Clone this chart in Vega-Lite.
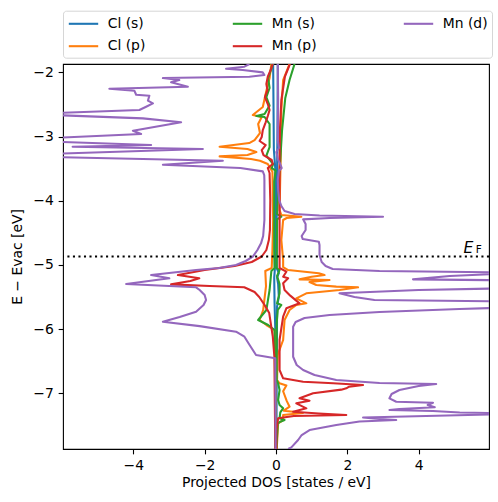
{
  "$schema": "https://vega.github.io/schema/vega-lite/v6.json",
  "width": 426,
  "height": 385,
  "autosize": "none",
  "padding": {"left": 63, "top": 64, "right": 9, "bottom": 53},
  "config": {
    "font": "DejaVu Sans",
    "view": {"stroke": "black", "strokeWidth": 1.1},
    "axis": {"grid": false, "domain": false, "tickColor": "black", "tickWidth": 1.1, "tickSize": 4.86, "labelPadding": 4.86, "labelFontSize": 13.9, "labelColor": "black", "titleFontSize": 13.9, "titleFontWeight": "normal", "titleColor": "black", "labelFont": "DejaVu Sans", "titleFont": "DejaVu Sans"}
  },
  "layer": [
    {
      "data": {"values": [
        {"o":"Cl (s)","s":"up","E":-1.87,"d":0.05},{"o":"Cl (s)","s":"up","E":-3.0,"d":0.04},{"o":"Cl (s)","s":"up","E":-4.0,"d":0.02},{"o":"Cl (s)","s":"up","E":-5.05,"d":0.02},{"o":"Cl (s)","s":"up","E":-5.13,"d":0.08},{"o":"Cl (s)","s":"up","E":-5.2,"d":0.03},{"o":"Cl (s)","s":"up","E":-5.3,"d":0.06},{"o":"Cl (s)","s":"up","E":-5.5,"d":0.08},{"o":"Cl (s)","s":"up","E":-5.65,"d":0.03},{"o":"Cl (s)","s":"up","E":-7.87,"d":0.01},
        {"o":"Cl (s)","s":"dn","E":-1.87,"d":-0.08},{"o":"Cl (s)","s":"dn","E":-2.5,"d":-0.07},{"o":"Cl (s)","s":"dn","E":-3.2,"d":-0.06},{"o":"Cl (s)","s":"dn","E":-3.5,"d":-0.02},{"o":"Cl (s)","s":"dn","E":-5.05,"d":-0.03},{"o":"Cl (s)","s":"dn","E":-5.2,"d":-0.05},{"o":"Cl (s)","s":"dn","E":-5.6,"d":-0.04},{"o":"Cl (s)","s":"dn","E":-6.0,"d":-0.02},{"o":"Cl (s)","s":"dn","E":-7.87,"d":-0.01},

        {"o":"Cl (p)","s":"up","E":-1.87,"d":0.38},{"o":"Cl (p)","s":"up","E":-2.12,"d":0.2},{"o":"Cl (p)","s":"up","E":-2.587,"d":0.15},{"o":"Cl (p)","s":"up","E":-3.366,"d":0.13},{"o":"Cl (p)","s":"up","E":-4.146,"d":0.1},{"o":"Cl (p)","s":"up","E":-4.224,"d":0.15},{"o":"Cl (p)","s":"up","E":-4.25,"d":0.71},{"o":"Cl (p)","s":"up","E":-4.27,"d":0.3},{"o":"Cl (p)","s":"up","E":-4.301,"d":0.2},{"o":"Cl (p)","s":"up","E":-4.613,"d":0.15},{"o":"Cl (p)","s":"up","E":-4.925,"d":0.2},{"o":"Cl (p)","s":"up","E":-5.034,"d":0.2},{"o":"Cl (p)","s":"up","E":-5.081,"d":0.34},{"o":"Cl (p)","s":"up","E":-5.132,"d":1.2},{"o":"Cl (p)","s":"up","E":-5.159,"d":1.36},{"o":"Cl (p)","s":"up","E":-5.185,"d":1.0},{"o":"Cl (p)","s":"up","E":-5.226,"d":0.66},{"o":"Cl (p)","s":"up","E":-5.236,"d":1.5},{"o":"Cl (p)","s":"up","E":-5.268,"d":0.94},{"o":"Cl (p)","s":"up","E":-5.314,"d":1.13},{"o":"Cl (p)","s":"up","E":-5.34,"d":1.69},{"o":"Cl (p)","s":"up","E":-5.35,"d":2.3},{"o":"Cl (p)","s":"up","E":-5.392,"d":1.78},{"o":"Cl (p)","s":"up","E":-5.444,"d":0.85},{"o":"Cl (p)","s":"up","E":-5.522,"d":0.57},{"o":"Cl (p)","s":"up","E":-5.6,"d":0.85},{"o":"Cl (p)","s":"up","E":-5.626,"d":0.57},{"o":"Cl (p)","s":"up","E":-5.704,"d":0.38},{"o":"Cl (p)","s":"up","E":-5.86,"d":0.24},{"o":"Cl (p)","s":"up","E":-6.171,"d":0.2},{"o":"Cl (p)","s":"up","E":-6.4,"d":0.05},{"o":"Cl (p)","s":"up","E":-6.795,"d":0.03},{"o":"Cl (p)","s":"up","E":-6.846,"d":0.1},{"o":"Cl (p)","s":"up","E":-6.88,"d":0.29},{"o":"Cl (p)","s":"up","E":-6.97,"d":0.2},{"o":"Cl (p)","s":"up","E":-7.12,"d":0.3},{"o":"Cl (p)","s":"up","E":-7.211,"d":0.38},{"o":"Cl (p)","s":"up","E":-7.273,"d":0.22},{"o":"Cl (p)","s":"up","E":-7.289,"d":0.48},{"o":"Cl (p)","s":"up","E":-7.31,"d":0.75},{"o":"Cl (p)","s":"up","E":-7.34,"d":0.2},{"o":"Cl (p)","s":"up","E":-7.42,"d":0.2},{"o":"Cl (p)","s":"up","E":-7.469,"d":0.06},{"o":"Cl (p)","s":"up","E":-7.87,"d":0.02},
        {"o":"Cl (p)","s":"dn","E":-1.87,"d":-0.13},{"o":"Cl (p)","s":"dn","E":-2.089,"d":-0.18},{"o":"Cl (p)","s":"dn","E":-2.286,"d":-0.27},{"o":"Cl (p)","s":"dn","E":-2.541,"d":-0.37},{"o":"Cl (p)","s":"dn","E":-2.665,"d":-0.65},{"o":"Cl (p)","s":"dn","E":-2.696,"d":-0.4},{"o":"Cl (p)","s":"dn","E":-2.805,"d":-0.5},{"o":"Cl (p)","s":"dn","E":-2.946,"d":-0.45},{"o":"Cl (p)","s":"dn","E":-3.055,"d":-0.6},{"o":"Cl (p)","s":"dn","E":-3.102,"d":-0.75},{"o":"Cl (p)","s":"dn","E":-3.159,"d":-1.58},{"o":"Cl (p)","s":"dn","E":-3.195,"d":-0.8},{"o":"Cl (p)","s":"dn","E":-3.242,"d":-0.55},{"o":"Cl (p)","s":"dn","E":-3.289,"d":-0.8},{"o":"Cl (p)","s":"dn","E":-3.31,"d":-1.58},{"o":"Cl (p)","s":"dn","E":-3.35,"d":-0.7},{"o":"Cl (p)","s":"dn","E":-3.377,"d":-0.45},{"o":"Cl (p)","s":"dn","E":-3.429,"d":-0.23},{"o":"Cl (p)","s":"dn","E":-3.55,"d":-0.1},{"o":"Cl (p)","s":"dn","E":-4.3,"d":-0.08},{"o":"Cl (p)","s":"dn","E":-4.769,"d":-0.1},{"o":"Cl (p)","s":"dn","E":-5.049,"d":-0.12},{"o":"Cl (p)","s":"dn","E":-5.096,"d":-0.3},{"o":"Cl (p)","s":"dn","E":-5.33,"d":-0.28},{"o":"Cl (p)","s":"dn","E":-5.704,"d":-0.36},{"o":"Cl (p)","s":"dn","E":-5.86,"d":-0.46},{"o":"Cl (p)","s":"dn","E":-5.938,"d":-0.27},{"o":"Cl (p)","s":"dn","E":-6.016,"d":-0.04},{"o":"Cl (p)","s":"dn","E":-6.4,"d":-0.02},{"o":"Cl (p)","s":"dn","E":-7.87,"d":-0.01},

        {"o":"Mn (s)","s":"up","E":-1.87,"d":0.52},{"o":"Mn (s)","s":"up","E":-2.12,"d":0.38},{"o":"Mn (s)","s":"up","E":-2.4,"d":0.26},{"o":"Mn (s)","s":"up","E":-2.899,"d":0.17},{"o":"Mn (s)","s":"up","E":-3.366,"d":0.12},{"o":"Mn (s)","s":"up","E":-3.834,"d":0.06},{"o":"Mn (s)","s":"up","E":-4.208,"d":0.03},{"o":"Mn (s)","s":"up","E":-4.25,"d":0.15},{"o":"Mn (s)","s":"up","E":-4.29,"d":0.03},{"o":"Mn (s)","s":"up","E":-4.925,"d":0.02},{"o":"Mn (s)","s":"up","E":-5.049,"d":0.02},{"o":"Mn (s)","s":"up","E":-5.081,"d":0.1},{"o":"Mn (s)","s":"up","E":-5.174,"d":0.03},{"o":"Mn (s)","s":"up","E":-5.299,"d":0.1},{"o":"Mn (s)","s":"up","E":-5.444,"d":0.1},{"o":"Mn (s)","s":"up","E":-5.6,"d":0.03},{"o":"Mn (s)","s":"up","E":-5.626,"d":0.15},{"o":"Mn (s)","s":"up","E":-5.704,"d":0.05},{"o":"Mn (s)","s":"up","E":-5.9,"d":0.02},{"o":"Mn (s)","s":"up","E":-6.795,"d":0.02},{"o":"Mn (s)","s":"up","E":-6.846,"d":0.06},{"o":"Mn (s)","s":"up","E":-6.951,"d":0.1},{"o":"Mn (s)","s":"up","E":-7.106,"d":0.06},{"o":"Mn (s)","s":"up","E":-7.184,"d":0.1},{"o":"Mn (s)","s":"up","E":-7.236,"d":0.2},{"o":"Mn (s)","s":"up","E":-7.3,"d":0.12},{"o":"Mn (s)","s":"up","E":-7.392,"d":0.1},{"o":"Mn (s)","s":"up","E":-7.418,"d":0.24},{"o":"Mn (s)","s":"up","E":-7.45,"d":0.1},{"o":"Mn (s)","s":"up","E":-7.469,"d":0.05},{"o":"Mn (s)","s":"up","E":-7.87,"d":0.01},
        {"o":"Mn (s)","s":"dn","E":-1.87,"d":-0.1},{"o":"Mn (s)","s":"dn","E":-1.944,"d":-0.13},{"o":"Mn (s)","s":"dn","E":-2.089,"d":-0.22},{"o":"Mn (s)","s":"dn","E":-2.244,"d":-0.18},{"o":"Mn (s)","s":"dn","E":-2.385,"d":-0.27},{"o":"Mn (s)","s":"dn","E":-2.519,"d":-0.18},{"o":"Mn (s)","s":"dn","E":-2.65,"d":-0.32},{"o":"Mn (s)","s":"dn","E":-2.681,"d":-0.55},{"o":"Mn (s)","s":"dn","E":-2.696,"d":-0.32},{"o":"Mn (s)","s":"dn","E":-2.805,"d":-0.18},{"o":"Mn (s)","s":"dn","E":-3.164,"d":-0.18},{"o":"Mn (s)","s":"dn","E":-3.299,"d":-0.27},{"o":"Mn (s)","s":"dn","E":-3.429,"d":-0.08},{"o":"Mn (s)","s":"dn","E":-3.491,"d":-0.12},{"o":"Mn (s)","s":"dn","E":-3.53,"d":-0.01},{"o":"Mn (s)","s":"dn","E":-3.7,"d":-0.05},{"o":"Mn (s)","s":"dn","E":-4.769,"d":-0.05},{"o":"Mn (s)","s":"dn","E":-5.049,"d":-0.04},{"o":"Mn (s)","s":"dn","E":-5.096,"d":-0.13},{"o":"Mn (s)","s":"dn","E":-5.392,"d":-0.18},{"o":"Mn (s)","s":"dn","E":-5.704,"d":-0.27},{"o":"Mn (s)","s":"dn","E":-5.86,"d":-0.5},{"o":"Mn (s)","s":"dn","E":-5.938,"d":-0.22},{"o":"Mn (s)","s":"dn","E":-6.016,"d":-0.04},{"o":"Mn (s)","s":"dn","E":-6.432,"d":-0.03},{"o":"Mn (s)","s":"dn","E":-7.87,"d":-0.01},

        {"o":"Mn (p)","s":"up","E":-1.87,"d":0.39},{"o":"Mn (p)","s":"up","E":-2.068,"d":0.25},{"o":"Mn (p)","s":"up","E":-2.431,"d":0.15},{"o":"Mn (p)","s":"up","E":-2.899,"d":0.11},{"o":"Mn (p)","s":"up","E":-3.366,"d":0.1},{"o":"Mn (p)","s":"up","E":-4.3,"d":0.1},{"o":"Mn (p)","s":"up","E":-5.049,"d":0.1},{"o":"Mn (p)","s":"up","E":-5.107,"d":0.29},{"o":"Mn (p)","s":"up","E":-5.185,"d":0.2},{"o":"Mn (p)","s":"up","E":-5.21,"d":0.34},{"o":"Mn (p)","s":"up","E":-5.288,"d":0.2},{"o":"Mn (p)","s":"up","E":-5.392,"d":0.24},{"o":"Mn (p)","s":"up","E":-5.48,"d":0.4},{"o":"Mn (p)","s":"up","E":-5.6,"d":0.66},{"o":"Mn (p)","s":"up","E":-5.677,"d":0.29},{"o":"Mn (p)","s":"up","E":-5.808,"d":0.2},{"o":"Mn (p)","s":"up","E":-6.171,"d":0.1},{"o":"Mn (p)","s":"up","E":-6.639,"d":0.1},{"o":"Mn (p)","s":"up","E":-6.768,"d":0.2},{"o":"Mn (p)","s":"up","E":-6.821,"d":0.76},{"o":"Mn (p)","s":"up","E":-6.846,"d":1.6},{"o":"Mn (p)","s":"up","E":-6.873,"d":2.44},{"o":"Mn (p)","s":"up","E":-6.899,"d":2.05},{"o":"Mn (p)","s":"up","E":-6.924,"d":1.97},{"o":"Mn (p)","s":"up","E":-6.945,"d":1.83},{"o":"Mn (p)","s":"up","E":-7.002,"d":1.04},{"o":"Mn (p)","s":"up","E":-7.08,"d":0.66},{"o":"Mn (p)","s":"up","E":-7.117,"d":0.94},{"o":"Mn (p)","s":"up","E":-7.158,"d":0.57},{"o":"Mn (p)","s":"up","E":-7.236,"d":0.85},{"o":"Mn (p)","s":"up","E":-7.289,"d":0.48},{"o":"Mn (p)","s":"up","E":-7.318,"d":1.2},{"o":"Mn (p)","s":"up","E":-7.34,"d":1.97},{"o":"Mn (p)","s":"up","E":-7.356,"d":0.5},{"o":"Mn (p)","s":"up","E":-7.392,"d":0.06},{"o":"Mn (p)","s":"up","E":-7.574,"d":0.01},{"o":"Mn (p)","s":"up","E":-7.87,"d":0.01},
        {"o":"Mn (p)","s":"dn","E":-1.87,"d":-0.09},{"o":"Mn (p)","s":"dn","E":-1.964,"d":-0.15},{"o":"Mn (p)","s":"dn","E":-2.068,"d":-0.23},{"o":"Mn (p)","s":"dn","E":-2.182,"d":-0.27},{"o":"Mn (p)","s":"dn","E":-2.276,"d":-0.24},{"o":"Mn (p)","s":"dn","E":-2.385,"d":-0.31},{"o":"Mn (p)","s":"dn","E":-2.494,"d":-0.23},{"o":"Mn (p)","s":"dn","E":-2.587,"d":-0.18},{"o":"Mn (p)","s":"dn","E":-2.681,"d":-0.23},{"o":"Mn (p)","s":"dn","E":-2.779,"d":-0.29},{"o":"Mn (p)","s":"dn","E":-2.899,"d":-0.37},{"o":"Mn (p)","s":"dn","E":-3.008,"d":-0.4},{"o":"Mn (p)","s":"dn","E":-3.07,"d":-0.46},{"o":"Mn (p)","s":"dn","E":-3.133,"d":-0.29},{"o":"Mn (p)","s":"dn","E":-3.211,"d":-0.4},{"o":"Mn (p)","s":"dn","E":-3.289,"d":-0.35},{"o":"Mn (p)","s":"dn","E":-3.366,"d":-0.12},{"o":"Mn (p)","s":"dn","E":-3.429,"d":-0.09},{"o":"Mn (p)","s":"dn","E":-3.491,"d":-0.23},{"o":"Mn (p)","s":"dn","E":-3.569,"d":-0.18},{"o":"Mn (p)","s":"dn","E":-3.99,"d":-0.16},{"o":"Mn (p)","s":"dn","E":-4.457,"d":-0.17},{"o":"Mn (p)","s":"dn","E":-4.613,"d":-0.2},{"o":"Mn (p)","s":"dn","E":-4.769,"d":-0.27},{"o":"Mn (p)","s":"dn","E":-4.87,"d":-0.4},{"o":"Mn (p)","s":"dn","E":-4.956,"d":-0.68},{"o":"Mn (p)","s":"dn","E":-5.018,"d":-1.16},{"o":"Mn (p)","s":"dn","E":-5.081,"d":-2.0},{"o":"Mn (p)","s":"dn","E":-5.159,"d":-2.75},{"o":"Mn (p)","s":"dn","E":-5.21,"d":-2.15},{"o":"Mn (p)","s":"dn","E":-5.252,"d":-2.4},{"o":"Mn (p)","s":"dn","E":-5.304,"d":-2.94},{"o":"Mn (p)","s":"dn","E":-5.33,"d":-1.86},{"o":"Mn (p)","s":"dn","E":-5.35,"d":-0.89},{"o":"Mn (p)","s":"dn","E":-5.423,"d":-0.6},{"o":"Mn (p)","s":"dn","E":-5.501,"d":-0.47},{"o":"Mn (p)","s":"dn","E":-5.626,"d":-0.32},{"o":"Mn (p)","s":"dn","E":-5.751,"d":-0.19},{"o":"Mn (p)","s":"dn","E":-6.12,"d":-0.09},{"o":"Mn (p)","s":"dn","E":-6.432,"d":-0.045},{"o":"Mn (p)","s":"dn","E":-7.87,"d":-0.02},

        {"o":"Mn (d)","s":"up","E":-1.87,"d":0.05},{"o":"Mn (d)","s":"up","E":-2.431,"d":0.06},{"o":"Mn (d)","s":"up","E":-3.055,"d":0.05},{"o":"Mn (d)","s":"up","E":-3.179,"d":0.08},{"o":"Mn (d)","s":"up","E":-3.242,"d":0.01},{"o":"Mn (d)","s":"up","E":-3.366,"d":0.06},{"o":"Mn (d)","s":"up","E":-3.429,"d":0.12},{"o":"Mn (d)","s":"up","E":-3.491,"d":0.16},{"o":"Mn (d)","s":"up","E":-3.538,"d":0.08},{"o":"Mn (d)","s":"up","E":-3.678,"d":0.05},{"o":"Mn (d)","s":"up","E":-3.834,"d":0.06},{"o":"Mn (d)","s":"up","E":-3.99,"d":0.09},{"o":"Mn (d)","s":"up","E":-4.083,"d":0.15},{"o":"Mn (d)","s":"up","E":-4.161,"d":0.24},{"o":"Mn (d)","s":"up","E":-4.208,"d":0.52},{"o":"Mn (d)","s":"up","E":-4.231,"d":1.22},{"o":"Mn (d)","s":"up","E":-4.25,"d":3.0},{"o":"Mn (d)","s":"up","E":-4.27,"d":1.5},{"o":"Mn (d)","s":"up","E":-4.291,"d":0.76},{"o":"Mn (d)","s":"up","E":-4.364,"d":0.83},{"o":"Mn (d)","s":"up","E":-4.457,"d":0.83},{"o":"Mn (d)","s":"up","E":-4.551,"d":0.72},{"o":"Mn (d)","s":"up","E":-4.598,"d":0.75},{"o":"Mn (d)","s":"up","E":-4.64,"d":1.2},{"o":"Mn (d)","s":"up","E":-4.691,"d":1.22},{"o":"Mn (d)","s":"up","E":-4.847,"d":1.22},{"o":"Mn (d)","s":"up","E":-4.956,"d":1.28},{"o":"Mn (d)","s":"up","E":-5.018,"d":1.39},{"o":"Mn (d)","s":"up","E":-5.065,"d":1.59},{"o":"Mn (d)","s":"up","E":-5.096,"d":2.9},{"o":"Mn (d)","s":"up","E":-5.123,"d":7.0},{"o":"Mn (d)","s":"up","E":-5.174,"d":4.87},{"o":"Mn (d)","s":"up","E":-5.226,"d":3.84},{"o":"Mn (d)","s":"up","E":-5.244,"d":7.0},{"o":"Mn (d)","s":"up","E":-5.361,"d":6.8},{"o":"Mn (d)","s":"up","E":-5.392,"d":4.0},{"o":"Mn (d)","s":"up","E":-5.444,"d":1.78},{"o":"Mn (d)","s":"up","E":-5.501,"d":2.2},{"o":"Mn (d)","s":"up","E":-5.548,"d":2.76},{"o":"Mn (d)","s":"up","E":-5.575,"d":7.0},{"o":"Mn (d)","s":"up","E":-5.642,"d":8.0},{"o":"Mn (d)","s":"up","E":-5.688,"d":5.14},{"o":"Mn (d)","s":"up","E":-5.735,"d":2.9},{"o":"Mn (d)","s":"up","E":-5.782,"d":1.5},{"o":"Mn (d)","s":"up","E":-5.829,"d":0.8},{"o":"Mn (d)","s":"up","E":-5.891,"d":0.55},{"o":"Mn (d)","s":"up","E":-5.964,"d":0.48},{"o":"Mn (d)","s":"up","E":-6.223,"d":0.48},{"o":"Mn (d)","s":"up","E":-6.432,"d":0.48},{"o":"Mn (d)","s":"up","E":-6.561,"d":0.58},{"o":"Mn (d)","s":"up","E":-6.639,"d":0.76},{"o":"Mn (d)","s":"up","E":-6.717,"d":1.08},{"o":"Mn (d)","s":"up","E":-6.795,"d":1.69},{"o":"Mn (d)","s":"up","E":-6.842,"d":2.9},{"o":"Mn (d)","s":"up","E":-6.857,"d":4.49},{"o":"Mn (d)","s":"up","E":-6.888,"d":4.0},{"o":"Mn (d)","s":"up","E":-6.951,"d":3.46},{"o":"Mn (d)","s":"up","E":-7.013,"d":3.24},{"o":"Mn (d)","s":"up","E":-7.08,"d":3.18},{"o":"Mn (d)","s":"up","E":-7.133,"d":3.37},{"o":"Mn (d)","s":"up","E":-7.149,"d":4.4},{"o":"Mn (d)","s":"up","E":-7.184,"d":4.25},{"o":"Mn (d)","s":"up","E":-7.22,"d":4.45},{"o":"Mn (d)","s":"up","E":-7.247,"d":3.46},{"o":"Mn (d)","s":"up","E":-7.262,"d":3.18},{"o":"Mn (d)","s":"up","E":-7.278,"d":4.4},{"o":"Mn (d)","s":"up","E":-7.301,"d":5.15},{"o":"Mn (d)","s":"up","E":-7.32,"d":7.0},{"o":"Mn (d)","s":"up","E":-7.379,"d":2.44},{"o":"Mn (d)","s":"up","E":-7.402,"d":2.9},{"o":"Mn (d)","s":"up","E":-7.418,"d":3.37},{"o":"Mn (d)","s":"up","E":-7.441,"d":2.34},{"o":"Mn (d)","s":"up","E":-7.496,"d":1.69},{"o":"Mn (d)","s":"up","E":-7.574,"d":0.94},{"o":"Mn (d)","s":"up","E":-7.652,"d":0.72},{"o":"Mn (d)","s":"up","E":-7.73,"d":0.62},{"o":"Mn (d)","s":"up","E":-7.844,"d":0.43},{"o":"Mn (d)","s":"up","E":-7.87,"d":0.34},
        {"o":"Mn (d)","s":"dn","E":-1.87,"d":-0.745},{"o":"Mn (d)","s":"dn","E":-1.912,"d":-0.885},{"o":"Mn (d)","s":"dn","E":-1.944,"d":-1.4},{"o":"Mn (d)","s":"dn","E":-1.964,"d":-0.93},{"o":"Mn (d)","s":"dn","E":-2.0,"d":-0.373},{"o":"Mn (d)","s":"dn","E":-2.042,"d":-0.325},{"o":"Mn (d)","s":"dn","E":-2.068,"d":-0.745},{"o":"Mn (d)","s":"dn","E":-2.089,"d":-3.17},{"o":"Mn (d)","s":"dn","E":-2.12,"d":-2.71},{"o":"Mn (d)","s":"dn","E":-2.156,"d":-2.94},{"o":"Mn (d)","s":"dn","E":-2.224,"d":-2.47},{"o":"Mn (d)","s":"dn","E":-2.255,"d":-4.67},{"o":"Mn (d)","s":"dn","E":-2.286,"d":-3.97},{"o":"Mn (d)","s":"dn","E":-2.349,"d":-3.92},{"o":"Mn (d)","s":"dn","E":-2.364,"d":-3.55},{"o":"Mn (d)","s":"dn","E":-2.442,"d":-3.59},{"o":"Mn (d)","s":"dn","E":-2.483,"d":-3.45},{"o":"Mn (d)","s":"dn","E":-2.536,"d":-3.64},{"o":"Mn (d)","s":"dn","E":-2.587,"d":-3.83},{"o":"Mn (d)","s":"dn","E":-2.65,"d":-7.0},{"o":"Mn (d)","s":"dn","E":-2.717,"d":-3.73},{"o":"Mn (d)","s":"dn","E":-2.779,"d":-2.66},{"o":"Mn (d)","s":"dn","E":-2.91,"d":-4.01},{"o":"Mn (d)","s":"dn","E":-2.961,"d":-3.78},{"o":"Mn (d)","s":"dn","E":-3.055,"d":-7.5},{"o":"Mn (d)","s":"dn","E":-3.133,"d":-3.5},{"o":"Mn (d)","s":"dn","E":-3.159,"d":-5.7},{"o":"Mn (d)","s":"dn","E":-3.195,"d":-2.05},{"o":"Mn (d)","s":"dn","E":-3.299,"d":-8.0},{"o":"Mn (d)","s":"dn","E":-3.377,"d":-1.49},{"o":"Mn (d)","s":"dn","E":-3.44,"d":-3.17},{"o":"Mn (d)","s":"dn","E":-3.491,"d":-1.0},{"o":"Mn (d)","s":"dn","E":-3.543,"d":-0.37},{"o":"Mn (d)","s":"dn","E":-3.6,"d":-0.33},{"o":"Mn (d)","s":"dn","E":-3.678,"d":-0.325},{"o":"Mn (d)","s":"dn","E":-4.301,"d":-0.325},{"o":"Mn (d)","s":"dn","E":-4.55,"d":-0.36},{"o":"Mn (d)","s":"dn","E":-4.665,"d":-0.42},{"o":"Mn (d)","s":"dn","E":-4.769,"d":-0.52},{"o":"Mn (d)","s":"dn","E":-4.873,"d":-0.65},{"o":"Mn (d)","s":"dn","E":-4.94,"d":-0.85},{"o":"Mn (d)","s":"dn","E":-5.003,"d":-1.12},{"o":"Mn (d)","s":"dn","E":-5.049,"d":-1.6},{"o":"Mn (d)","s":"dn","E":-5.081,"d":-2.24},{"o":"Mn (d)","s":"dn","E":-5.159,"d":-3.5},{"o":"Mn (d)","s":"dn","E":-5.21,"d":-2.99},{"o":"Mn (d)","s":"dn","E":-5.299,"d":-4.2},{"o":"Mn (d)","s":"dn","E":-5.35,"d":-2.24},{"o":"Mn (d)","s":"dn","E":-5.392,"d":-2.14},{"o":"Mn (d)","s":"dn","E":-5.47,"d":-2.0},{"o":"Mn (d)","s":"dn","E":-5.548,"d":-1.96},{"o":"Mn (d)","s":"dn","E":-5.626,"d":-2.03},{"o":"Mn (d)","s":"dn","E":-5.73,"d":-2.24},{"o":"Mn (d)","s":"dn","E":-5.813,"d":-2.7},{"o":"Mn (d)","s":"dn","E":-5.886,"d":-3.17},{"o":"Mn (d)","s":"dn","E":-5.955,"d":-2.14},{"o":"Mn (d)","s":"dn","E":-6.042,"d":-1.12},{"o":"Mn (d)","s":"dn","E":-6.12,"d":-0.885},{"o":"Mn (d)","s":"dn","E":-6.249,"d":-0.74},{"o":"Mn (d)","s":"dn","E":-6.405,"d":-0.56},{"o":"Mn (d)","s":"dn","E":-6.457,"d":-0.02},{"o":"Mn (d)","s":"dn","E":-7.87,"d":-0.01}
      ]},
      "mark": {"type": "line", "strokeWidth": 2.08, "clip": true, "strokeJoin": "round"},
      "encoding": {
        "x": {"field": "d", "type": "quantitative", "scale": {"domain": [-5.97, 5.97], "nice": false, "zero": false}, "axis": {"values": [-4, -2, 0, 2, 4], "format": "d", "title": "Projected DOS [states / eV]", "titlePadding": 3}},
        "y": {"field": "E", "type": "quantitative", "scale": {"domain": [-7.87, -1.87], "nice": false, "zero": false}, "axis": {"values": [-7, -6, -5, -4, -3, -2], "format": "d", "title": "E − Evac [eV]", "titlePadding": 8}},
        "color": {"field": "o", "type": "nominal", "scale": {"domain": ["Cl (s)", "Cl (p)", "Mn (s)", "Mn (p)", "Mn (d)"], "range": ["#1f77b4", "#ff7f0e", "#2ca02c", "#d62728", "#9467bd"]},
          "legend": {"orient": "none", "legendX": 0, "legendY": -53.3, "columns": 3, "title": null, "symbolType": "M-2.1,0H2.1", "symbolSize": 196, "symbolOffset": 7.7, "symbolStrokeWidth": 2.08, "labelFontSize": 13.9, "labelFont": "DejaVu Sans", "labelColor": "black", "labelOffset": 15.7, "columnPadding": 82, "rowPadding": 6.7, "padding": 4.3, "strokeColor": "#d6d6d6", "cornerRadius": 3, "fillColor": "white", "gridAlign": "each"}},
        "detail": {"field": "s", "type": "nominal"},
        "order": {"field": "E", "type": "quantitative"}
      }
    },
    {
      "data": {"values": [{"E": -4.87}]},
      "mark": {"type": "rule", "color": "black", "strokeWidth": 2.08, "strokeDash": [2.08, 3.44]},
      "encoding": {"y": {"field": "E", "type": "quantitative"}}
    },
    {
      "data": {"values": [{"E": -4.87, "d": 5.97, "t": "E"}]},
      "mark": {"type": "text", "fontSize": 15.5, "fontStyle": "italic", "font": "DejaVu Sans", "align": "right", "baseline": "alphabetic", "dx": -15.7, "dy": -3.2, "color": "black"},
      "encoding": {"x": {"field": "d", "type": "quantitative"}, "y": {"field": "E", "type": "quantitative"}, "text": {"field": "t"}}
    },
    {
      "data": {"values": [{"E": -4.87, "d": 5.97, "t": "F"}]},
      "mark": {"type": "text", "fontSize": 10.5, "font": "DejaVu Sans", "align": "right", "baseline": "alphabetic", "dx": -7.3, "dy": -3.8, "color": "black"},
      "encoding": {"x": {"field": "d", "type": "quantitative"}, "y": {"field": "E", "type": "quantitative"}, "text": {"field": "t"}}
    }
  ]
}
